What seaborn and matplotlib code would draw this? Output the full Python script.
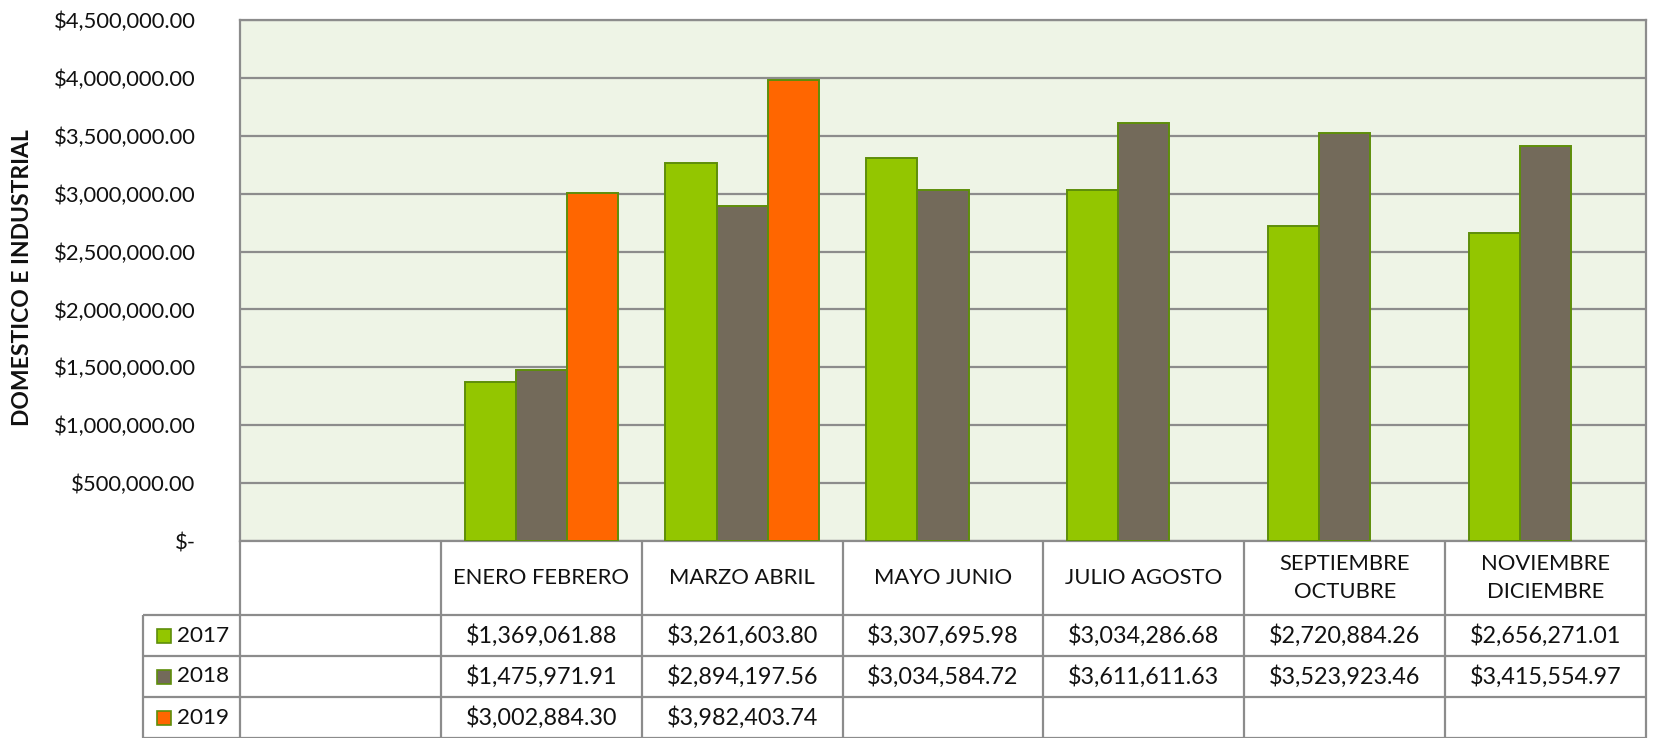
import numpy as np
import pandas as pd
import matplotlib
matplotlib.use("Agg")
import matplotlib.pyplot as plt
import matplotlib.transforms as mtransforms
from matplotlib.patches import Rectangle
import seaborn as sns

# Bimonthly billing periods (the first slot is an empty category)
periods = [" ", "ENERO FEBRERO", "MARZO ABRIL", "MAYO JUNIO",
           "JULIO AGOSTO", "SEPTIEMBRE OCTUBRE", "NOVIEMBRE DICIEMBRE"]
period_labels = ["", "ENERO FEBRERO", "MARZO ABRIL", "MAYO JUNIO",
                 "JULIO AGOSTO", "SEPTIEMBRE\nOCTUBRE", "NOVIEMBRE\nDICIEMBRE"]
years = ["2017", "2018", "2019"]

values_2017 = [np.nan, 1369061.88, 3261603.80, 3307695.98, 3034286.68, 2720884.26, 2656271.01]
values_2018 = [np.nan, 1475971.91, 2894197.56, 3034584.72, 3611611.63, 3523923.46, 3415554.97]
values_2019 = [np.nan, 3002884.30, 3982403.74, np.nan, np.nan, np.nan, np.nan]

yticks = [0, 500000, 1000000, 1500000, 2000000, 2500000, 3000000, 3500000, 4000000, 4500000]
ylabel = "DOMESTICO E INDUSTRIAL"

colors = {"2017": "#93C600", "2018": "#736A5A", "2019": "#FF6600"}
edge = "#5E8E0A"
grid_c = "#8C8C8C"
bg = "#EEF4E6"
txt = "#111111"

series = {"2017": values_2017, "2018": values_2018, "2019": values_2019}
rows = []
for y in years:
    for p, v in zip(periods, series[y]):
        rows.append({"periodo": p, "anio": y, "monto": v})
df = pd.DataFrame(rows)

sns.set_theme(style="white")
plt.rcParams["font.family"] = ["Lato", "DejaVu Sans"]

W, H = 1653, 738
fig = plt.figure(figsize=(W / 100, H / 100), dpi=100)
fig.patch.set_facecolor("white")

# plot-area rectangle in pixels
x0, x1 = 240, 1646
ytop, ybot = 20, 541
ax = fig.add_axes([x0 / W, 1 - ybot / H, (x1 - x0) / W, (ybot - ytop) / H])
ax.set_facecolor(bg)

sns.barplot(data=df, x="periodo", y="monto", hue="anio", order=periods,
            hue_order=years, palette=colors, saturation=1, width=0.764,
            errorbar=None, edgecolor=edge, linewidth=1.4, legend=False,
            ax=ax, zorder=3)

ax.set_xlim(-0.5, len(periods) - 0.5)
ax.set_ylim(0, 4500000)
ax.set_yticks(yticks)


def money(v):
    if v == 0:
        return "$-"
    return "${:,.2f}".format(v)


ax.set_yticklabels([money(v) for v in yticks], fontsize=15.8, color=txt)
ax.tick_params(axis="y", length=0, pad=32)
ax.set_xticks([])
ax.set_xlabel("")
ax.set_ylabel("")
ax.yaxis.grid(True, color=grid_c, linewidth=1.6, zorder=0)
ax.set_axisbelow(True)
for s in ax.spines.values():
    s.set_color(grid_c)
    s.set_linewidth(1.6)

fig.text(23 / W, 1 - 278 / H, ylabel, rotation=90, ha="center", va="center",
         fontsize=16.5, fontweight="bold", color=txt)

# data table under the axis, columns aligned with the categories
tr = mtransforms.blended_transform_factory(ax.transData, fig.transFigure)
ffig = fig.transFigure


def fy(px):
    return 1 - px / H


row_edges = [541, 615, 656, 697, 738]
leg_left = 143 / W
line_kw = dict(color=grid_c, linewidth=1.6, clip_on=False, solid_capstyle="butt")

# horizontal lines
for yp in row_edges[1:]:
    fig.add_artist(plt.Line2D([leg_left, x1 / W], [fy(yp), fy(yp)], transform=ffig, **line_kw))
# vertical lines between period columns
for k in range(len(periods) + 1):
    xb = k - 0.5
    fig.add_artist(plt.Line2D([xb, xb], [fy(541), fy(738)], transform=tr, **line_kw))
# left edge of the series-name column
fig.add_artist(plt.Line2D([leg_left, leg_left], [fy(615), fy(738)], transform=ffig, **line_kw))

# header row
for k, lab in enumerate(period_labels):
    fig.text(k, fy((541 + 615) / 2), lab, transform=tr, ha="center", va="center",
             fontsize=15.8, color=txt, linespacing=1.45)

# value rows
for r, y in enumerate(years):
    yc = fy((row_edges[r + 1] + row_edges[r + 2]) / 2)
    fig.add_artist(Rectangle((157 / W, yc - 7 / H), 14 / W, 14 / H, transform=ffig,
                             facecolor=colors[y], edgecolor=edge, linewidth=1.2))
    fig.text(177 / W, yc, y, transform=ffig, ha="left", va="center",
             fontsize=16.2, color=txt)
    for k, v in enumerate(series[y]):
        if np.isnan(v):
            continue
        fig.text(k, yc, money(v), transform=tr, ha="center", va="center",
                 fontsize=16.8, color=txt)

fig.savefig("out.png", dpi=100, facecolor="white")
